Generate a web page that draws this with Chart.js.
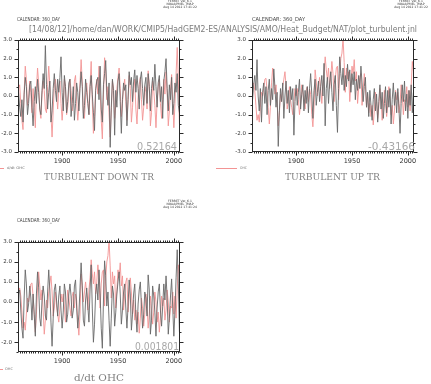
<!DOCTYPE html>
<html>
<head>
<meta charset="utf-8">
<script src="https://cdn.jsdelivr.net/npm/chart.js@4.4.1/dist/chart.umd.min.js"></script>
<style>
  html, body { margin: 0; padding: 0; background: #fff; }
  #page { position: relative; width: 431px; height: 384px; overflow: hidden; }
  canvas { position: absolute; }
  .t { position: absolute; white-space: nowrap; line-height: 1; transform-origin: 0 0; font-family: "DejaVu Sans", sans-serif; }
  .ferret { position: absolute; font-family: "DejaVu Sans", sans-serif; font-size: 3px; line-height: 3.2px; color: #333; text-align: center; width: 34px; }
  .cal { font-size: 5.5px; color: #444; }
  .num { font-size: 10px; color: #a8a8a8; }
  .ttl { font-family: "DejaVu Serif", serif; font-size: 10px; color: #808080; }
  .leg { font-size: 3.5px; color: #777; }
  .dash { position: absolute; height: 1px; background: #f39494; }
</style>
</head>
<body>
<div id="page">
  <canvas id="c1" width="200" height="175" style="left:0;top:0"></canvas>
  <canvas id="c2" width="197" height="175" style="left:234px;top:0"></canvas>
  <canvas id="c3" width="200" height="184" style="left:0;top:190px"></canvas>

  <div class="ferret" style="left:163px;top:0">FERRET Ver. 6.1<br>NOAA/PMEL TMAP<br>Aug 14 2012 17:41:22</div>
  <div class="ferret" style="left:394px;top:0">FERRET Ver. 6.1<br>NOAA/PMEL TMAP<br>Aug 14 2012 17:41:22</div>
  <div class="ferret" style="left:163px;top:200px">FERRET Ver. 6.1<br>NOAA/PMEL TMAP<br>Aug 14 2012 17:41:24</div>

  <div class="t cal" data-w="43" style="left:17px;top:16.5px">CALENDAR: 360_DAY</div>
  <div class="t cal" data-w="53" style="left:252px;top:16.5px">CALENDAR: 360_DAY</div>
  <div class="t cal" data-w="43" style="left:17px;top:217.5px">CALENDAR: 360_DAY</div>

  <div class="t" data-w="388" style="left:29px;top:26px;font-size:8px;color:#7c7c7c">[14/08/12]/home/dan/WORK/CMIP5/HadGEM2-ES/ANALYSIS/AMO/Heat_Budget/NAT/plot_turbulent.jnl</div>

  <div class="t num" data-w="40" style="left:137px;top:141.8px">0.52164</div>
  <div class="t num" data-w="47" style="left:368px;top:141.8px">-0.43166</div>
  <div class="t num" data-w="44" style="left:135px;top:342.3px">0.001801</div>

  <div class="dash" style="left:0;top:168px;width:4px"></div>
  <div class="t leg" data-w="18" style="left:7px;top:166.5px">d/dt OHC</div>
  <div class="dash" style="left:216px;top:168px;width:21px"></div>
  <div class="t leg" data-w="7" style="left:240px;top:166.5px">OHC</div>
  <div class="dash" style="left:0;top:369px;width:3px"></div>
  <div class="t leg" data-w="8" style="left:5px;top:367.5px">OHC</div>

  <div class="t ttl" data-w="110" style="left:44px;top:171.8px">TURBULENT DOWN TR</div>
  <div class="t ttl" data-w="95" style="left:285px;top:171.8px">TURBULENT UP TR</div>
  <div class="t ttl" data-w="50" style="left:74px;top:372.5px">d/dt OHC</div>
</div>
<script>
// annual values 1861-2005
const FIRST_YEAR = 1861;
const X_MIN = 1860.5;
const X_MAX = 2005.5;
const YEAR_LABELS = [1900, 1950, 2000];

// turbulent down (black, panel 1)
const turbDown = [
  0.2, -0.6, -1.1, -0.2, -1.4, 0.1, 1.0, 0.5, -1.0, -0.4,
  0.6, 0.8, -0.6, -1.6, -0.3, 0.5, -0.4, 0.9, 0.2, -0.7,
  -1.0, 0.3, 1.2, 0.4, 2.7, 0.6, -0.7, 0.2, 0.8, -1.4,
  -0.8, 0.4, 1.2, 0.3, -0.3, 0.9, 0.2, 1.0, 2.1, 0.2,
  -0.8, 1.1, 0.5, -0.9, -0.3, 0.7, 0.9, -1.1, -0.4, 0.5,
  -1.3, -0.4, 0.7, 0.2, -0.8, 0.4, 1.3, 0.5, -1.2, -0.5,
  0.9, 0.2, -0.4, -1.0, 0.5, 1.1, 0.1, -0.9, -1.85, 0.3,
  0.8, 1.0, -0.2, 1.6, -0.7, -1.4, 0.6, 1.2, 1.9, 0.2,
  -0.5, 0.7, -2.75, -0.6, 0.9, 0.3, -2.1, 0.3, -0.6, 0.8,
  1.2, -0.3, -2.0, -0.2, 0.7, 0.3, 0.6, -1.6, -0.2, 1.3,
  0.6, 1.0, -0.3, 0.8, 1.4, 0.2, 1.1, 0.4, -0.7, 0.9,
  1.3, 0.4, -0.5, 0.6, 1.0, -0.4, 1.2, 0.5, -0.8, 0.4,
  1.0, 0.3, 1.7, 0.5, -0.6, 0.7, 1.1, -0.3, 0.5, -1.2,
  0.8, 1.3, 2.0, 0.4, -0.8, 0.6, -0.2, 1.0, -1.0, -0.4,
  0.7, 0.2, 1.2, -0.5, -0.9
];

// d/dt OHC (red in panel 1, black in panel 3)
const dOHCdt = [
  0.4, 0.6, -0.4, -1.3, -1.8, 0.2, 1.6, 0.9, -0.5, -0.1,
  0.8, 0.2, -0.9, 0.4, -0.6, -1.7, 0.4, 1.5, 0.7, -0.8,
  -1.2, 0.1, 0.8, 0.3, -0.7, -0.9, 0.5, 1.6, 0.6, -1.0,
  -2.2, -0.8, 0.6, 0.9, 0.1, -0.7, 0.3, 0.8, -0.4, -1.3,
  -0.5, 0.9, 0.5, -1.0, -0.6, 0.4, 0.9, 0.3, -0.8, -0.4,
  0.8, 1.1, -0.3, -1.3, -0.6, 0.7, 1.95, 0.8, -0.9, -1.2,
  0.1, 0.7, -0.2, -1.0, 0.6, 1.85, -0.3, -2.0, -1.1, 0.4,
  0.9, 0.1, 1.6, 0.4, -1.3, -2.3, 0.1, 2.05, 1.3, -0.2,
  0.5, -0.9, -2.2, -0.8, 0.8, 0.4, -1.2, -0.5, 0.4, 1.0,
  1.5, 0.4, -1.1, -0.4, 0.5, 0.9, -0.3, -1.3, -0.2, 1.1,
  0.4, -1.4, -0.6, 0.4, 0.9, -0.7, -1.5, -0.1, 0.6, 1.0,
  -0.2, -1.3, -0.6, 0.5, 0.2, -0.7, 1.35, 0.6, -1.6, -0.9,
  0.8, 0.3, -0.5, -1.7, -0.3, 0.5, 0.9, -0.4, -1.2, -0.2,
  0.9, 0.1, 1.3, 0.2, -1.6, -0.8, 0.3, 1.15, -0.3, -1.7,
  -0.4, 1.2, 2.6, 0.9, -1.5
];

// turbulent up (black, panel 2)
const turbUp = [
  -0.2, 0.6, 1.1, 0.3, 1.95, 0.0, -0.8, 0.4, -1.4, 0.2,
  0.7, -0.4, 0.5, -1.0, 0.3, 0.9, -0.5, 0.4, -0.2, 1.45,
  0.5, -0.6, 0.2, -2.7, -0.8, 0.4, -0.3, 0.7, -1.2, 0.0,
  0.8, -0.4, 0.3, -0.9, 0.5, -0.2, 0.4, -2.1, -0.3, 0.6,
  -0.5, 0.2, 0.9, -0.7, 0.1, 0.6, -0.8, 0.3, -0.4, 0.5,
  -0.9, 0.4, 1.2, 0.1, -1.2, 0.3, 0.9, -0.5, 0.2, 0.8,
  -0.3, 0.5, 1.1, 0.0, 1.75, -1.6, 0.4, 1.0, -0.4, 0.7,
  1.3, 0.2, -0.8, 0.6, 1.1, -0.5, -1.95, 0.4, 2.1, 1.2,
  0.6, 1.5, 0.3, 1.1, 0.5, 1.7, 0.8, 1.4, 0.2, 1.2,
  0.6, 1.3, -0.2, 0.9, 0.3, 1.1, 0.4, 1.6, 0.7, -0.3,
  0.5, 1.0, -0.6, 0.2, -1.1, 0.3, -0.5, -1.3, -0.2, 0.4,
  -0.8, 0.1, -1.4, -0.3, 0.6, -0.7, 0.2, -1.2, -0.4, 0.5,
  -0.9, 0.3, -0.6, 0.4, -1.5, -0.2, 0.7, -0.5, 0.2, -0.9,
  0.4, -0.6, -2.0, -0.4, 0.6, -0.3, 0.8, -0.8, 0.1, -1.2,
  0.3, -0.5, 0.6, -0.9, 0.2
];

// OHC (red, panels 2 and 3)
const ohc = [
  0.5, 0.7, 0.3, -0.5, -1.3, -1.0, -1.4, -0.6, 0.2, 0.0,
  0.4, 0.9, 0.95, 0.3, -0.6, -1.5, -0.6, 0.7, 1.5, 0.8,
  0.1, 0.6, -0.4, -1.6, -0.9, 0.1, -0.3, 0.5, 0.9, 1.3,
  0.5, -0.7, -0.3, 0.5, -0.2, -0.6, -1.0, -0.3, 0.4, 0.0,
  0.4, -0.2, -1.0, -0.4, 0.6, 0.2, -0.3, -0.7, 0.3, 0.5,
  -0.3, 0.4, 0.1, -1.0, -1.65, -0.6, 1.4, 0.8, 0.0, 0.5,
  1.0, 0.4, -0.4, 0.6, 1.2, 2.1, 1.4, 0.9, 1.5, 0.4,
  1.0, 1.85, 1.2, -0.3, 0.9, 1.5, 1.6, -0.2, 1.2, 2.0,
  2.3, 3.1, 1.8, 0.2, 1.5, 0.9, 1.3, -0.3, 0.6, 1.6,
  1.2, 1.95, 0.8, 1.3, -0.4, 0.4, 1.0, 1.2, -0.5, 0.3,
  1.2, 0.5, -0.6, 0.1, -0.9, -0.4, -1.1, -0.5, -1.55, -0.8,
  0.2, -0.3, -1.2, -0.6, 0.4, -0.2, -1.3, -0.6, 0.3, -0.4,
  -1.1, -0.5, 0.5, 0.0, -1.0, -0.5, -1.5, -0.8, 0.3, -0.2,
  0.2, -0.9, -0.4, 0.6, 0.0, -1.0, -0.2, -0.3, 0.5, -0.6,
  0.3, -0.8, 0.6, 1.85, 1.3
];

const BLACK = '#686868';
const RED = '#f39494';

function toPoints(arr) {
  return arr.map((v, i) => ({ x: FIRST_YEAR + i, y: v }));
}

// frame and Ferret-style tick marks, placed with the chart's own scales
const ferretAxes = {
  id: 'ferretAxes',
  afterDatasetsDraw(chart) {
    const { ctx, chartArea: a, scales: { x, y } } = chart;
    ctx.save();
    ctx.strokeStyle = '#2a2a2a';
    ctx.lineWidth = 1;
    const L = Math.round(a.left) + 0.5, R = Math.round(a.right) - 0.5;
    const T = Math.round(a.top) + 0.5, B = Math.round(a.bottom) - 0.5;
    ctx.strokeRect(L, T, R - L, B - T);
    ctx.beginPath();
    for (let yr = 1862; yr <= 2004; yr += 2) {
      const px = Math.round(x.getPixelForValue(yr)) + 0.5;
      const len = yr % 50 === 0 ? 4 : 2;
      ctx.moveTo(px, B); ctx.lineTo(px, B + len);
      ctx.moveTo(px, T); ctx.lineTo(px, T - len);
    }
    for (let v = y.min; v <= y.max + 1e-6; v += 0.5) {
      const py = Math.round(y.getPixelForValue(v)) + 0.5;
      const len = Math.abs(v - Math.round(v)) < 1e-6 ? 4 : 2;
      ctx.moveTo(L, py); ctx.lineTo(L - len, py);
      ctx.moveTo(R, py); ctx.lineTo(R + len, py);
    }
    ctx.stroke();
    ctx.restore();
  }
};

function makePanel(id, black, red, yMin, yMax, pad) {
  const yTicks = [];
  for (let v = Math.ceil(yMin); v <= yMax; v++) yTicks.push(v);
  return new Chart(document.getElementById(id), {
    type: 'line',
    data: {
      datasets: [
        { data: toPoints(black), borderColor: BLACK, borderWidth: 0.9, pointRadius: 0, tension: 0 },
        { data: toPoints(red), borderColor: RED, borderWidth: 0.9, pointRadius: 0, tension: 0 }
      ]
    },
    options: {
      responsive: false,
      animation: false,
      devicePixelRatio: 1,
      layout: { padding: pad },
      plugins: { legend: { display: false }, tooltip: { enabled: false } },
      scales: {
        x: {
          type: 'linear', min: X_MIN, max: X_MAX,
          afterBuildTicks: s => { s.ticks = YEAR_LABELS.map(v => ({ value: v })); },
          afterFit: s => { s.height = 20; },
          grid: { display: false, drawTicks: false },
          border: { display: false },
          ticks: { color: '#333', padding: 5, maxRotation: 0, autoSkip: false,
                   callback: v => String(v),
                   font: { family: 'DejaVu Sans', size: 6.5 } }
        },
        y: {
          min: yMin, max: yMax,
          afterBuildTicks: s => { s.ticks = yTicks.map(v => ({ value: v })); },
          afterFit: s => { s.width = 18; },
          grid: { display: false, drawTicks: false },
          border: { display: false },
          ticks: { color: '#333', padding: 6, autoSkip: false,
                   callback: v => v.toFixed(1),
                   font: { family: 'DejaVu Sans', size: 5.5 } }
        }
      }
    },
    plugins: [ferretAxes]
  });
}

makePanel('c1', turbDown, dOHCdt, -3, 3, { top: 40, right: 20, bottom: 3, left: 0 });
makePanel('c2', turbUp, ohc, -3, 3, { top: 40, right: 17, bottom: 3, left: 0 });
makePanel('c3', dOHCdt, ohc, -2.5, 3, { top: 51.7, right: 20, bottom: 1.7, left: 0 });

// stretch the Ferret labels to their measured widths
document.querySelectorAll('[data-w]').forEach(el => {
  const w = +el.dataset.w;
  const cur = el.getBoundingClientRect().width;
  if (cur > 0) el.style.transform = 'scaleX(' + (w / cur) + ')';
});
</script>
</body>
</html>
